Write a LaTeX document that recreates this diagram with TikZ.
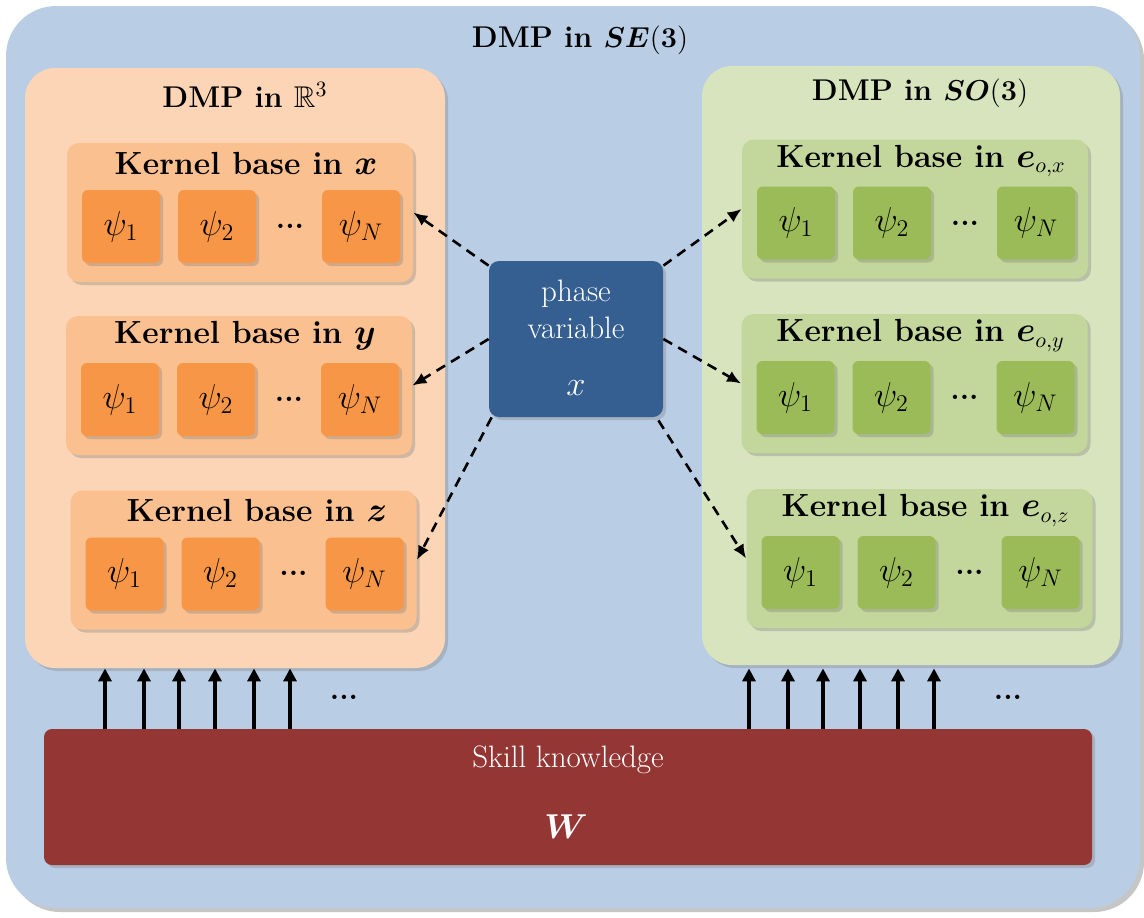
\documentclass[tikz,border=0pt]{standalone}
\usepackage{amssymb}
\usepackage{bm}
\usetikzlibrary{positioning,shadows,arrows.meta}
\definecolor{outerblue}{HTML}{B9CDE5}
\definecolor{dmporange}{HTML}{FBD5B5}
\definecolor{kernorange}{HTML}{FAC090}
\definecolor{psiorange}{HTML}{F79646}
\definecolor{dmpgreen}{HTML}{D7E4BD}
\definecolor{kerngreen}{HTML}{C3D69B}
\definecolor{psigreen}{HTML}{9BBB59}
\definecolor{phaseblue}{HTML}{355F91}
\definecolor{skillred}{HTML}{943634}
\tikzset{
  softshadow/.style={drop shadow={opacity=.35,shadow xshift=1.5pt,shadow yshift=-1.5pt}},
  dmpbox/.style={rounded corners=15pt,minimum width=210pt,minimum height=300pt,softshadow},
  kernbox/.style={rounded corners=6pt,minimum width=173pt,minimum height=69.5pt,softshadow},
  psibox/.style={rounded corners=3pt,minimum width=39pt,minimum height=36.5pt,
    font=\fontsize{18.5}{22}\selectfont,softshadow},
  titletext/.style={font=\fontsize{15}{18}\selectfont\bfseries},
  kerntext/.style={font=\fontsize{16}{19}\selectfont\bfseries},
  dotstext/.style={font=\fontsize{15}{18}\selectfont\bfseries},
  whitetext/.style={text=white,font=\fontsize{15.5}{19}\selectfont},
  phaselink/.style={dashed,dash pattern=on 5pt off 3.5pt,line width=1.3pt,-{Latex[length=7pt,width=6pt]}},
  weightlink/.style={line width=2pt,-{Triangle[length=6.5pt,width=6.5pt]}}
}
\begin{document}
\begin{tikzpicture}[x=0.5pt,y=-0.5pt]
\useasboundingbox (0,0) rectangle (1144,917);
% Outer frame
\node[fill=outerblue,rounded corners=25pt,minimum width=567pt,minimum height=451pt,
  drop shadow={opacity=.45,shadow xshift=2pt,shadow yshift=-2pt}] (se3) at (573,457) {};
\node[titletext] (se3title) at (580,40) {DMP in $\bm{SE}(\bm{3})$};
% DMP in R3
\node[dmpbox,fill=dmporange] (r3) at (235,368) {};
\node[titletext] (r3title) at (245,95) {DMP in $\mathbb{R}^3$};
\node[kernbox,fill=kernorange] (kx) at (240,212.5) {};
\node[kernbox,fill=kernorange] (ky) at (239,385.5) {};
\node[kernbox,fill=kernorange] (kz) at (243.5,560) {};
\node[kerntext] (kxtitle) at (246,163) {Kernel base in $\bm{x}$};
\node[kerntext] (kytitle) at (245,336) {Kernel base in $\bm{y}$};
\node[kerntext] (kztitle) at (257,510.5) {Kernel base in $\bm{z}$};
% psi boxes, orange
\node[psibox,fill=psiorange] (kx1) at (121,226.5) {$\psi_1$};
\node[psibox,fill=psiorange] (kx2) at (217,226.5) {$\psi_2$};
\node[dotstext] (kxdots) at (290,226) {...};
\node[psibox,fill=psiorange] (kxn) at (361,226.5) {$\psi_N$};
\node[psibox,fill=psiorange] (ky1) at (120,399.5) {$\psi_1$};
\node[psibox,fill=psiorange] (ky2) at (216,399.5) {$\psi_2$};
\node[dotstext] (kydots) at (289,399) {...};
\node[psibox,fill=psiorange] (kyn) at (360,399.5) {$\psi_N$};
\node[psibox,fill=psiorange] (kz1) at (124.5,574) {$\psi_1$};
\node[psibox,fill=psiorange] (kz2) at (220.5,574) {$\psi_2$};
\node[dotstext] (kzdots) at (293.5,573.5) {...};
\node[psibox,fill=psiorange] (kzn) at (364.5,574) {$\psi_N$};
% DMP in SO3
\node[dmpbox,fill=dmpgreen,minimum width=209pt,minimum height=299.5pt] (so3) at (911,365.5) {};
\node[titletext] (so3title) at (920,93) {DMP in $\bm{SO}(\bm{3})$};
\node[kernbox,fill=kerngreen] (kex) at (915,209) {};
\node[kernbox,fill=kerngreen] (key) at (914.5,383.5) {};
\node[kernbox,fill=kerngreen] (kez) at (919.5,558.5) {};
\node[kerntext] (kextitle) at (921,161) {Kernel base in $\bm{e}_{o,x}$};
\node[kerntext] (keytitle) at (920.5,335.5) {Kernel base in $\bm{e}_{o,y}$};
\node[kerntext] (keztitle) at (925.5,510.5) {Kernel base in $\bm{e}_{o,z}$};
% psi boxes, green
\node[psibox,fill=psigreen] (kex1) at (796,223) {$\psi_1$};
\node[psibox,fill=psigreen] (kex2) at (892,223) {$\psi_2$};
\node[dotstext] (kexdots) at (965,223) {...};
\node[psibox,fill=psigreen] (kexn) at (1036,223) {$\psi_N$};
\node[psibox,fill=psigreen] (key1) at (795.5,397.5) {$\psi_1$};
\node[psibox,fill=psigreen] (key2) at (891.5,397.5) {$\psi_2$};
\node[dotstext] (keydots) at (964.5,397) {...};
\node[psibox,fill=psigreen] (keyn) at (1035.5,397.5) {$\psi_N$};
\node[psibox,fill=psigreen] (kez1) at (800.5,572.5) {$\psi_1$};
\node[psibox,fill=psigreen] (kez2) at (896.5,572.5) {$\psi_2$};
\node[dotstext] (kezdots) at (969.5,572) {...};
\node[psibox,fill=psigreen] (kezn) at (1040.5,572.5) {$\psi_N$};
% Phase variable
\node[fill=phaseblue,rounded corners=5pt,minimum width=87pt,minimum height=78pt,softshadow] (phase) at (576,339) {};
\node[whitetext] (phasetop) at (576,294) {phase};
\node[whitetext] (phasemid) at (576,328) {variable};
\node[whitetext,font=\fontsize{17}{20}\selectfont] (phasex) at (576,388) {$x$};
\draw[phaselink] ([yshift=-2.5pt]phase.north west) -- (kx.east);
\draw[phaselink] (phase.west) -- (ky.east);
\draw[phaselink] ([xshift=1.5pt]phase.south west) -- (kz.east);
\draw[phaselink] ([yshift=-2.5pt]phase.north east) -- (kex.west);
\draw[phaselink] (phase.east) -- (key.west);
\draw[phaselink] ([xshift=-2.5pt,yshift=-1.5pt]phase.south east) -- (kez.west);
% Skill knowledge
\node[fill=skillred,rounded corners=4pt,minimum width=524pt,minimum height=68pt,softshadow] (skill) at (568,797) {};
\node[whitetext] (skilltext) at (568,760) {Skill knowledge};
\node[whitetext,font=\fontsize{17.5}{20}\selectfont] (skillw) at (566,827) {$\bm{W}$};
% Weight arrows
\foreach \x [count=\i] in {105,144,179,215,254,290}{
  \coordinate (wl\i) at (\x,700);
  \draw[weightlink] (skill.north -| wl\i) -- (r3.south -| wl\i);
}
\foreach \x [count=\i] in {749,788,823,860,898,934}{
  \coordinate (wr\i) at (\x,700);
  \draw[weightlink] (skill.north -| wr\i) -- ([yshift=-1.5pt]so3.south -| wr\i);
}
\node[dotstext] (wldots) at (344,697) {...};
\node[dotstext] (wrdots) at (1008,697) {...};
\end{tikzpicture}
\end{document}
